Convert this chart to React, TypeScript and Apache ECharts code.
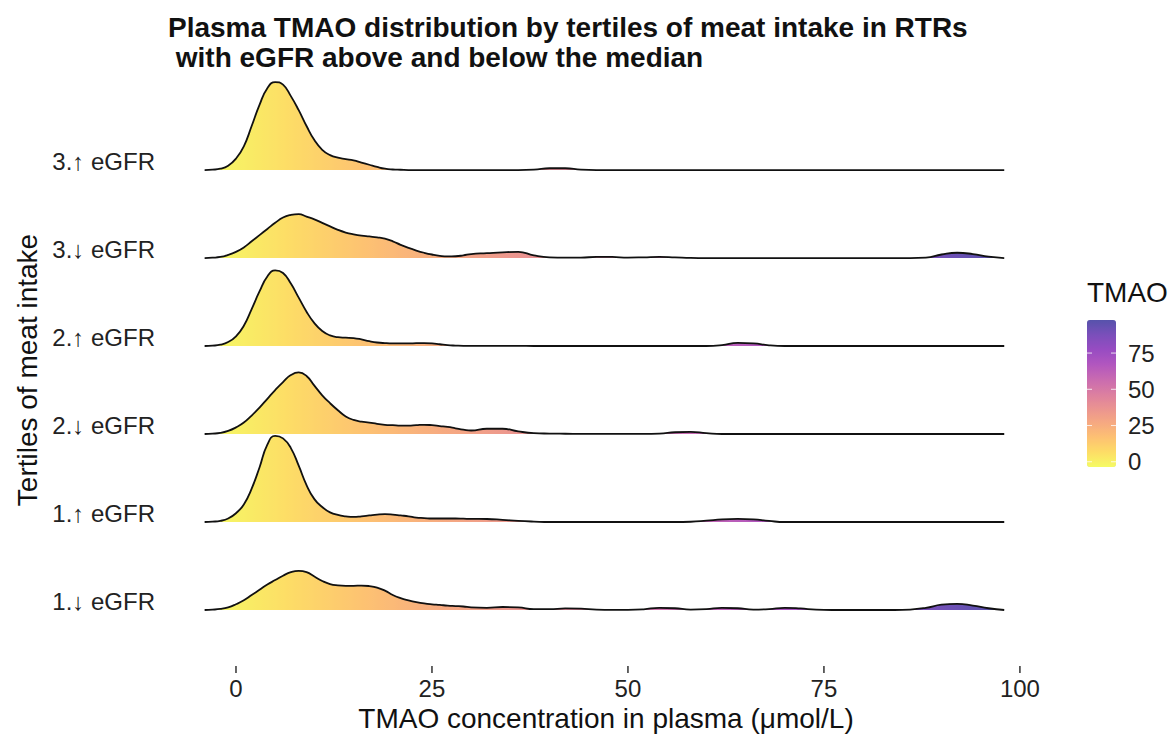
import { useEffect, useRef } from "react";
import * as echarts from "echarts";

// Shared x grid (TMAO, µmol/L) at which the ridge heights were read
const xGrid = [
  -4, -3, -2, -1, 0, 1, 2, 3, 4, 5, 6, 7, 8, 9, 10, 11, 12, 13, 14, 15, 16, 17, 18, 19, 20,
  21, 22, 23, 24, 25, 26, 27, 28, 29, 30, 32, 34, 36, 38, 40, 42, 44, 46, 48, 50, 52, 54, 56,
  58, 60, 62, 64, 66, 68, 70, 72, 74, 76, 78, 80, 82, 84, 86, 88, 90, 92, 94, 96, 98,
];

// Row labels (bottom to top)
const rowLabels = ["1.↓ eGFR", "1.↑ eGFR", "2.↓ eGFR", "2.↑ eGFR", "3.↓ eGFR", "3.↑ eGFR"];

// Ridge heights (scaled density, in units of row spacing)
const low1 = [
  0, 0.004, 0.012, 0.03,
  0.065, 0.11, 0.17, 0.23, 0.29, 0.34, 0.39, 0.43, 0.445, 0.43,
  0.38, 0.33, 0.295, 0.28, 0.275, 0.275, 0.278, 0.272, 0.255, 0.22,
  0.17, 0.135, 0.11, 0.09, 0.075, 0.065, 0.058, 0.05, 0.045, 0.04, 0.03,
  0.025, 0.034, 0.03, 0.01, 0.01, 0.018, 0.015, 0.004, 0.002, 0.002, 0.008, 0.025, 0.02, 0.005,
  0.01, 0.025, 0.02, 0.005, 0.01, 0.025, 0.018, 0.004, 0, 0, 0, 0, 0,
  0.005, 0.025, 0.06, 0.07, 0.05, 0.02, 0,
];
const high1 = [
  0, 0.004, 0.013, 0.04,
  0.1, 0.2, 0.38, 0.62, 0.88, 0.98, 0.95, 0.84, 0.64, 0.42,
  0.26, 0.17, 0.11, 0.08, 0.065, 0.058, 0.065, 0.075, 0.085, 0.09,
  0.085, 0.075, 0.065, 0.05, 0.045, 0.04, 0.04, 0.04, 0.04, 0.038, 0.035,
  0.034, 0.025, 0.013, 0.005, 0, 0, 0, 0, 0, 0, 0, 0, 0,
  0.003, 0.015, 0.03, 0.035, 0.03, 0.012,
  0, 0, 0, 0, 0, 0, 0, 0, 0, 0, 0, 0, 0, 0, 0,
];
const low2 = [
  0, 0.004, 0.012, 0.035,
  0.075, 0.13, 0.21, 0.3, 0.4, 0.5, 0.59, 0.67, 0.7, 0.66,
  0.55, 0.44, 0.35, 0.27, 0.2, 0.16, 0.14, 0.13, 0.115, 0.105,
  0.1, 0.095, 0.095, 0.1, 0.105, 0.1, 0.09, 0.08, 0.065, 0.05, 0.04,
  0.06, 0.06, 0.03, 0.01, 0.005, 0.003, 0.002, 0.002, 0.002, 0.002, 0.002, 0.005, 0.02, 0.025, 0.01, 0,
  0, 0, 0, 0, 0, 0, 0, 0, 0, 0, 0, 0, 0, 0, 0, 0, 0, 0,
];
const high2 = [
  0, 0.004, 0.015, 0.045,
  0.11, 0.23, 0.42, 0.62, 0.79, 0.86, 0.83, 0.71, 0.55, 0.39,
  0.26, 0.17, 0.12, 0.1, 0.095, 0.09, 0.075, 0.055, 0.04, 0.033,
  0.03, 0.03, 0.03, 0.032, 0.033, 0.03, 0.02, 0.01, 0.005, 0.002, 0.002,
  0.002, 0.002, 0.002, 0, 0, 0, 0, 0, 0, 0, 0, 0, 0, 0, 0,
  0.01, 0.035, 0.03, 0.008,
  0, 0, 0, 0, 0, 0, 0, 0, 0, 0, 0, 0, 0, 0, 0,
];
const low3 = [
  0, 0.004, 0.012, 0.035,
  0.07, 0.12, 0.19, 0.26, 0.33, 0.4, 0.46, 0.49, 0.5, 0.47,
  0.44, 0.4, 0.36, 0.32, 0.29, 0.27, 0.255, 0.245, 0.235, 0.22,
  0.19, 0.15, 0.115, 0.085, 0.06, 0.04, 0.025, 0.018, 0.02, 0.03, 0.045,
  0.055, 0.065, 0.07, 0.03, 0.008, 0.005, 0.005, 0.013, 0.012, 0.005, 0.008, 0.013, 0.008, 0.002,
  0, 0, 0, 0, 0, 0, 0, 0, 0, 0, 0, 0, 0, 0,
  0.005, 0.04, 0.06, 0.045, 0.015, 0,
];
const high3 = [
  0, 0.004, 0.015, 0.05,
  0.13, 0.27, 0.5, 0.74, 0.93, 1.0, 0.97, 0.84, 0.68, 0.5,
  0.34, 0.23, 0.17, 0.14, 0.125, 0.11, 0.085, 0.06, 0.035, 0.015,
  0.006, 0.003, 0, 0, 0, 0, 0, 0, 0, 0, 0,
  0, 0, 0, 0.004, 0.02, 0.02, 0.005,
  0, 0, 0, 0, 0, 0, 0, 0, 0, 0, 0, 0, 0, 0, 0, 0, 0, 0, 0, 0, 0, 0, 0, 0, 0, 0, 0,
];

const ridgeValues = [low1, high1, low2, high2, low3, high3];

const xTicks = [0, 25, 50, 75, 100];
const legendTicks = [0, 25, 50, 75];
const tmaoMin = -3.6;
const tmaoMax = 97.8;
const xMin = -8.8;
const xMax = 103.2;
const yMin = -0.625;
const yMax = 6.08;

// plasma (reversed), softened with transparency over white
const plasmaPale = [
  "#F5FB64", "#FDDD66", "#FDC172", "#F6A981", "#EA9391", "#DB7EA1",
  "#C86AB1", "#B156BF", "#974CC2", "#7A4FBA", "#5652AB",
];

const FONT = "'Liberation Sans', 'DejaVu Sans', Arial, Helvetica, sans-serif";

export default function App() {
  const ref = useRef<HTMLDivElement>(null);

  useEffect(() => {
    if (!ref.current) return;
    const chart = echarts.init(ref.current, undefined, { renderer: "svg" });

    const series: any[] = [];
    const ridgeIdx: number[] = [];
    for (let r = ridgeValues.length - 1; r >= 0; r--) {
      const vals = ridgeValues[r];
      ridgeIdx.push(series.length);
      series.push({
        type: "line",
        name: rowLabels[r],
        data: xGrid.map((x, j) => [x, r + vals[j]]),
        symbol: "none",
        smooth: 0.5,
        lineStyle: { color: "#111", width: 1.8 },
        areaStyle: { opacity: 1, origin: r },
        z: 2,
      });
    }

    // x-axis tick marks, placed by the axis scale at the bottom of the panel
    series.push({
      type: "scatter",
      name: "xticks",
      data: xTicks.map((v) => [v, yMin]),
      symbol: "rect",
      symbolSize: [1.5, 7],
      symbolOffset: [0, 4.5],
      itemStyle: { color: "#333", opacity: 1 },
      silent: true,
      clip: false,
      z: 10,
    });

    const vmLeft = 1087;
    const vmTop = 320;
    const vmW = 29;
    const vmH = 147;
    const vy = (v: number) => vmTop + ((tmaoMax - v) / (tmaoMax - tmaoMin)) * vmH;

    const graphics: any[] = [
      {
        type: "text",
        left: vmLeft,
        top: 278,
        style: { text: "TMAO", font: `28px ${FONT}`, fill: "#111" },
      },
    ];
    legendTicks.forEach((v) => {
      graphics.push({
        type: "text",
        x: 1128,
        y: vy(v),
        style: {
          text: String(v),
          font: `24px ${FONT}`,
          fill: "#222",
          verticalAlign: "middle",
          align: "left",
        },
        z: 10,
      });
      graphics.push({
        type: "line",
        shape: { x1: vmLeft, y1: vy(v), x2: vmLeft + 5, y2: vy(v) },
        style: { stroke: "rgba(255,255,255,0.8)", lineWidth: 1 },
        z: 10,
      });
      graphics.push({
        type: "line",
        shape: { x1: vmLeft + vmW - 5, y1: vy(v), x2: vmLeft + vmW, y2: vy(v) },
        style: { stroke: "rgba(255,255,255,0.8)", lineWidth: 1 },
        z: 10,
      });
    });

    chart.setOption({
      animation: false,
      backgroundColor: "#fff",
      textStyle: { fontFamily: FONT },
      title: {
        text:
          "Plasma TMAO distribution by tertiles of meat intake in RTRs\n\u00a0with eGFR above and below the median",
        left: 168,
        top: 12,
        padding: 0,
        textStyle: {
          fontFamily: FONT,
          fontSize: 28,
          fontWeight: "bold",
          color: "#111",
          lineHeight: 30,
        },
      },
      grid: { left: 167, right: 131, top: 75, bottom: 79 },
      xAxis: {
        type: "value",
        min: xMin,
        max: xMax,
        axisLine: { show: false, onZero: false },
        splitLine: { show: false },
        axisTick: { show: false },
        axisLabel: {
          customValues: xTicks,
          fontSize: 24,
          color: "#222",
          margin: 11,
          fontFamily: FONT,
        },
        name: "TMAO concentration in plasma (μmol/L)",
        nameLocation: "middle",
        nameGap: 38,
        nameTextStyle: { fontSize: 28, color: "#111", fontFamily: FONT, verticalAlign: "top" },
      },
      yAxis: {
        type: "value",
        min: yMin,
        max: yMax,
        axisLine: { show: false, onZero: false },
        axisTick: { show: false },
        splitLine: { show: false },
        axisLabel: {
          customValues: [0, 1, 2, 3, 4, 5],
          formatter: (v: number) => rowLabels[Math.round(v)] ?? "",
          fontSize: 24,
          color: "#222",
          margin: 12,
          verticalAlign: "bottom",
          lineHeight: 18,
          fontFamily: FONT,
        },
        name: "Tertiles of meat intake",
        nameLocation: "middle",
        nameRotate: 90,
        nameGap: 126,
        nameTextStyle: { fontSize: 28, color: "#111", fontFamily: FONT },
      },
      visualMap: {
        type: "continuous",
        show: true,
        min: tmaoMin,
        max: tmaoMax,
        dimension: 0,
        seriesIndex: ridgeIdx,
        calculable: false,
        hoverLink: false,
        padding: 0,
        left: vmLeft,
        top: vmTop,
        itemWidth: vmW,
        itemHeight: vmH,
        inRange: { color: plasmaPale },
      },
      graphic: graphics,
      series,
    });

    return () => chart.dispose();
  }, []);

  return (
    <div
      ref={ref}
      style={{ position: "fixed", left: 0, top: 0, width: 1176, height: 744 }}
    />
  );
}
